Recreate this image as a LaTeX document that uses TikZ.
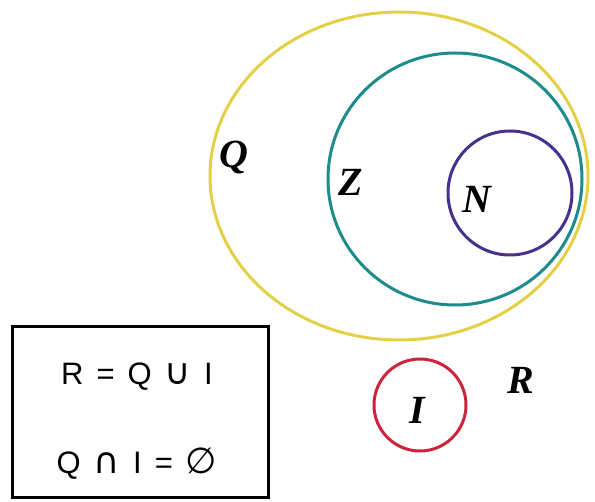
\documentclass[tikz,border=0pt]{standalone}
\usepackage{fontspec}
\setmainfont{Liberation Serif}
\newfontfamily\boxfont{Liberation Sans}
\newfontfamily\symfont{DejaVu Sans}
\definecolor{qyellow}{RGB}{228,208,70}
\definecolor{zteal}{RGB}{30,140,140}
\definecolor{npurple}{RGB}{70,50,140}
\definecolor{ired}{RGB}{205,35,60}
\newcommand{\bigsym}[1]{{\symfont\fontsize{36}{36}\selectfont #1}}
\newcommand{\gp}{\hspace{13pt}}
\tikzset{
  setline/.style={line width=3pt},
  setlabel/.style={font=\fontsize{40}{40}\selectfont\bfseries\itshape, inner sep=0pt},
  boxtext/.style={font=\fontsize{31}{31}\selectfont\boxfont, inner sep=0pt}
}
\begin{document}
\begin{tikzpicture}[x=1pt,y=-1pt]
\useasboundingbox[fill=white] (0,0) rectangle (595,502);
\draw[setline, qyellow] (399,176) ellipse [x radius=189, y radius=164];
\draw[setline, zteal] (455,179) ellipse [x radius=127, y radius=126];
\draw[setline, npurple] (510,193) circle [radius=62];
\draw[setline, ired] (420,405) circle [radius=46];
\node[setlabel] (lq) at (234,158) {Q};
\node[setlabel] (lz) at (351,182) {Z};
\node[setlabel] (ln) at (477,199) {N};
\node[setlabel] (li) at (417,410) {I};
\node[setlabel] (lr) at (521,380) {R};
\node[draw, line width=3pt, minimum width=256pt, minimum height=171pt, inner sep=0pt] (box) at (140,412.5) {};
\node[boxtext] (eq1) at (137,377) {R\gp=\gp Q\gp\bigsym{∪}\gp I};
\node[boxtext] (eq2) at (137,464) {Q\gp\bigsym{∩}\gp I\gp=\gp\bigsym{∅}};
\end{tikzpicture}
\end{document}
